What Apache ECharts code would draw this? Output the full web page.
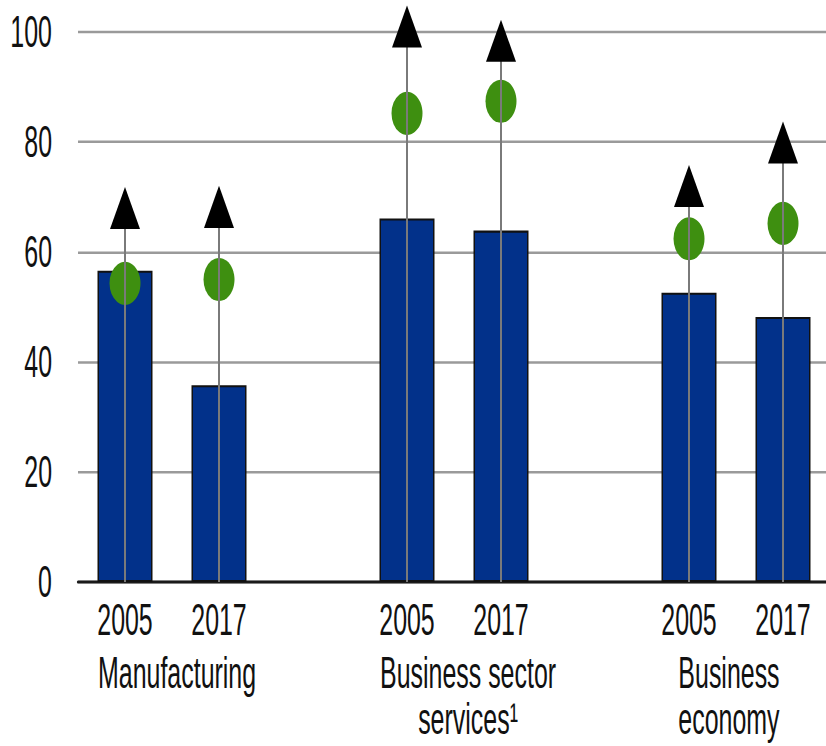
<!DOCTYPE html>
<html>
<head>
<meta charset="utf-8">
<script src="https://cdn.jsdelivr.net/npm/echarts@6/dist/echarts.min.js"></script>
<style>
  html, body { margin: 0; padding: 0; background: #fff; overflow: hidden; }
  #wrap { width: 826px; height: 746px; overflow: hidden; }
  #chart { width: 826px; height: 537px; transform: scaleY(1.38920); transform-origin: 0 0; }
</style>
</head>
<body>
<div id="wrap"><div id="chart"></div></div>
<script>
// ---- data ----
const categories = ['2005', '2017', '', '2005', '2017', '', '2005', '2017'];
const groupLabels = ['', 'Manufacturing', '', '', 'Business sector\nservices¹', '', '', 'Business\neconomy', ''];
const barValues = [56.6, 35.8, '-', 66.1, 63.9, '-', 52.6, 48.2];
const circleValues = [54.3, 55.0, '-', 85.2, 87.4, '-', 62.4, 65.2];
const arrowValues = [68.0, 68.2, '-', 101.0, 98.4, '-', 72.0, 79.9];
const yMin = 0, yMax = 100, yStep = 20;

// ---- style ----
const FONT = "'Liberation Sans Narrow', 'Arial Narrow', 'Liberation Sans', Arial, sans-serif";
const TEXT_SQUEEZE = 0.78; // the reference typeface is condensed
const FS = 32, LH = 33;
// small horizontal nudges of the group captions (rich-text style names per label index)
const groupNudgeStyle = { 1: 'n1', 4: 'n4', 7: 'n7' };

const lineData = [];
arrowValues.forEach(function (v, i) { if (v !== '-') lineData.push([i, v]); });

function richBase(pad) {
  return { fontFamily: FONT, fontSize: FS, color: '#111', lineHeight: LH, padding: pad };
}

const chart = echarts.init(document.getElementById('chart'), null, { renderer: 'svg' });
chart.setOption({
  animation: false,
  backgroundColor: '#fff',
  grid: { left: 78, width: 752, top: 23, bottom: 118, containLabel: false, outerBoundsMode: 'none' },
  xAxis: [{
    type: 'category',
    data: categories,
    boundaryGap: true,
    axisLine: { show: true, lineStyle: { color: '#1a1a1a', width: 2.2 } },
    axisTick: { show: false },
    axisLabel: { interval: 0, margin: 11, fontFamily: FONT, fontSize: FS, color: '#111', lineHeight: 32 },
    splitLine: { show: false }
  }, {
    type: 'category',
    data: groupLabels,
    position: 'bottom',
    offset: 38,
    boundaryGap: false,
    axisLine: { show: false },
    axisTick: { show: false },
    axisLabel: {
      interval: 0, margin: 11, fontFamily: FONT, fontSize: FS, color: '#111', lineHeight: LH, align: 'center',
      formatter: function (value, index) {
        const tag = groupNudgeStyle[index];
        if (!value || !tag) return value;
        return value.split('\n').map(function (s) { return '{' + tag + '|' + s + '}'; }).join('\n');
      },
      rich: {
        n1: richBase([0, 0, 0, 13]),
        n4: richBase([0, 0, 0, 36]),
        n7: richBase([0, 18, 0, 0])
      }
    },
    splitLine: { show: false }
  }],
  yAxis: {
    type: 'value',
    min: yMin, max: yMax, interval: yStep,
    axisLine: { show: false },
    axisTick: { show: false },
    axisLabel: { margin: 26, fontFamily: FONT, fontSize: FS, color: '#111' },
    splitLine: { show: true, lineStyle: { color: '#9a9a9a', width: 1.8 } }
  },
  series: [{
    type: 'bar',
    data: barValues,
    barWidth: 55,
    itemStyle: { color: '#02318a', borderColor: '#111', borderWidth: 1.5 },
    z: 2
  }, {
    type: 'scatter',
    data: circleValues,
    symbol: 'circle',
    symbolSize: 31,
    itemStyle: { color: '#3e8f10', opacity: 1 },
    clip: false,
    z: 3
  }, {
    type: 'custom',
    data: lineData,
    encode: { x: 0, y: 1 },
    clip: false,
    z: 4,
    renderItem: function (params, api) {
      const i = api.value(0);
      const top = api.coord([i, api.value(1)]);
      const bot = api.coord([i, 0]);
      return {
        type: 'line',
        shape: { x1: top[0], y1: top[1], x2: bot[0], y2: bot[1] },
        style: { stroke: '#7a7a7a', lineWidth: 2 }
      };
    }
  }, {
    type: 'scatter',
    data: arrowValues,
    symbol: 'triangle',
    symbolSize: [30, 30.3],
    itemStyle: { color: '#000', opacity: 1 },
    clip: false,
    z: 5
  }]
});

// condense the text glyphs horizontally around their anchor point
function squeezeText() {
  document.querySelectorAll('#chart svg text').forEach(function (t) {
    if (t.getAttribute('data-sq')) return;
    const tr = t.getAttribute('transform') || '';
    t.setAttribute('transform', (tr + ' scale(' + TEXT_SQUEEZE + ',1)').trim());
    t.setAttribute('data-sq', '1');
  });
}
try { chart.getZr().flush(); } catch (e) {}
squeezeText();
chart.on('finished', squeezeText);
setTimeout(squeezeText, 0);
setTimeout(squeezeText, 100);
</script>
</body>
</html>
